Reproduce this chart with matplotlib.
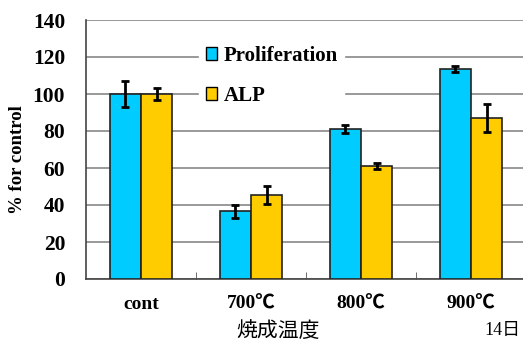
import matplotlib.pyplot as plt
from matplotlib.patches import Patch
import numpy as np

categories = ["cont", "700℃", "800℃", "900℃"]
prolif = [100, 36.5, 81, 113.5]
prolif_err = [7, 3.5, 2, 1.5]
alp = [100, 45.5, 61, 87]
alp_err = [3.5, 5, 1.5, 7.5]

blue = "#00CCFF"
yellow = "#FFCC00"
plt.rcParams["font.family"] = ["Liberation Serif", "Noto Sans CJK JP", "DejaVu Sans"]
plt.rcParams["font.weight"] = "bold"

fig = plt.figure(figsize=(5.23, 3.47), dpi=100)
ax = fig.add_axes([86 / 523, 1 - 279 / 347, 440 / 523, 259 / 347])

x = np.arange(len(categories)) + 0.5
w = 0.285
ax.bar(x - w / 2, prolif, w, color=blue, edgecolor="#222222", linewidth=1.2, zorder=3)
ax.bar(x + w / 2, alp, w, color=yellow, edgecolor="#222222", linewidth=1.2, zorder=3)
ax.errorbar(x - w / 2, prolif, yerr=prolif_err, fmt="none", ecolor="black",
            elinewidth=2, capsize=3, capthick=2, zorder=4)
ax.errorbar(x + w / 2, alp, yerr=alp_err, fmt="none", ecolor="black",
            elinewidth=2, capsize=3, capthick=2, zorder=4)

ax.set_xlim(0, 4)
ax.set_ylim(0, 140)
ax.set_yticks(range(0, 141, 20))
ax.set_xticks(x)
ax.set_xticklabels(categories)
ax.set_xticks([1, 2, 3], minor=True)
ax.tick_params(axis="x", which="major", length=0, pad=12, labelsize=14)
ax.tick_params(axis="x", which="minor", direction="in", length=5, color="#555555")
ax.tick_params(axis="y", length=0, pad=15, labelsize=15.5)

ax.grid(axis="y", color="#888888", linewidth=1.2, zorder=0)
ax.set_axisbelow(True)
for s in ["top", "right"]:
    ax.spines[s].set_visible(False)
for s in ["left", "bottom"]:
    ax.spines[s].set_color("#444444")
    ax.spines[s].set_linewidth(1.2)

fig.text(18 / 523, 1 - 160 / 347, "% for control", rotation=90, ha="center", va="center",
         fontsize=13.5)
fig.text(278 / 523, 1 - 331 / 347, "焼成温度", ha="center", va="center",
         fontfamily="Noto Sans CJK JP", fontweight="normal", fontsize=15)
fig.text(484 / 523, 1 - 331 / 347, "14日", ha="left", va="center",
         fontweight="normal", fontsize=13)

handles = [Patch(facecolor=blue, edgecolor="black"), Patch(facecolor=yellow, edgecolor="black")]
leg = ax.legend(handles, ["Proliferation", "ALP"], loc="center left",
                bbox_to_anchor=(189 / 523, 1 - 76 / 347), bbox_transform=fig.transFigure,
                frameon=True, facecolor="white", edgecolor="white", framealpha=1,
                fancybox=False, handlelength=0.55, handleheight=0.55, handletextpad=0.3,
                labelspacing=0.95, borderpad=0.3,
                prop={"weight": "bold", "size": 15})
leg.set_zorder(5)

fig.savefig("out.png", dpi=100)
